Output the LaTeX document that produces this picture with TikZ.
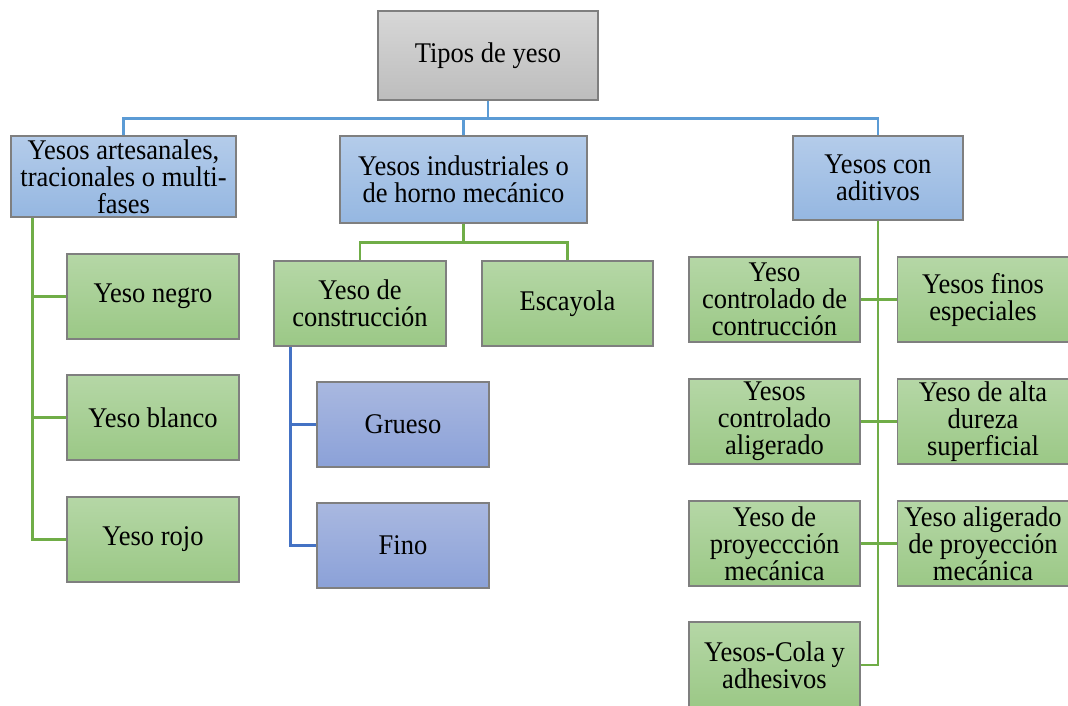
\documentclass[tikz,border=0pt]{standalone}
\usepackage{fontspec}
\setmainfont{Liberation Serif}[FakeStretch=0.93]
\definecolor{busblue}{HTML}{5B9BD5}
\definecolor{leafgreen}{HTML}{70AD47}
\definecolor{subblue}{HTML}{4472C4}
\definecolor{edgegray}{HTML}{7F7F7F}
\definecolor{graytop}{HTML}{D7D7D7}
\definecolor{graybot}{HTML}{BDBDBD}
\definecolor{bluetop}{HTML}{B4CCEA}
\definecolor{bluebot}{HTML}{95B7E1}
\definecolor{greentop}{HTML}{B5D7A6}
\definecolor{greenbot}{HTML}{9BC886}
\definecolor{violettop}{HTML}{A9B8E0}
\definecolor{violetbot}{HTML}{8BA1D8}
\begin{document}
\begin{tikzpicture}[x=1pt, y=-1pt, font=\fontsize{28.5}{27}\selectfont,
  box/.style={draw=edgegray, line width=1.2pt, align=center, inner xsep=1pt, inner ysep=-3pt, minimum height=85pt},
  graybox/.style={box, top color=graytop, bottom color=graybot},
  bluebox/.style={box, top color=bluetop, bottom color=bluebot},
  greenbox/.style={box, top color=greentop, bottom color=greenbot, minimum width=171pt},
  violetbox/.style={box, top color=violettop, bottom color=violetbot, minimum width=172pt},
  bluelink/.style={busblue, line width=2.4pt},
  greenlink/.style={leafgreen, line width=2.4pt},
  sublink/.style={subblue, line width=2.4pt}]
\clip (0,0) rectangle (1068,705);
% root and first level
\node[graybox, minimum width=220pt, minimum height=89pt] (root) at (488,55.5) {Tipos de yeso};
\node[bluebox, minimum width=225pt, minimum height=81pt] (art) at (123.5,176.5) {Yesos artesanales,\\tracionales o multi-\\fases};
\node[bluebox, minimum width=247pt, minimum height=87pt] (ind) at (463.5,179.5) {Yesos industriales o\\de horno mecánico};
\node[bluebox, minimum width=170pt, minimum height=84pt] (adi) at (878,178) {Yesos con\\aditivos};
% artesanales
\node[greenbox, minimum width=172pt] (negro) at (153,296.5) {Yeso negro};
\node[greenbox, minimum width=172pt] (blanco) at (153,417.5) {Yeso blanco};
\node[greenbox, minimum width=172pt] (rojo) at (153,539.5) {Yeso rojo};
% industriales
\node[greenbox, minimum width=172pt] (cons) at (360,303.5) {Yeso de\\construcción};
\node[greenbox] (esc) at (567.5,303.5) {Escayola};
\node[violetbox] (grueso) at (403,424.5) {Grueso};
\node[violetbox] (fino) at (403,545.5) {Fino};
% aditivos
\node[greenbox] (ctrl) at (774.5,299.5) {Yeso\\controlado de\\contrucción};
\node[greenbox] (finos) at (983,299.5) {Yesos finos\\especiales};
\node[greenbox] (alig) at (774.5,421.5) {Yesos\\controlado\\aligerado};
\node[greenbox] (dura) at (983,421.5) {Yeso de alta\\dureza\\superficial};
\node[greenbox] (proy) at (774.5,543.5) {Yeso de\\proyeccción\\mecánica};
\node[greenbox] (aproy) at (983,543.5) {Yeso aligerado\\de proyección\\mecánica};
\node[greenbox, minimum height=86pt] (cola) at (774.5,665) {Yesos-Cola y\\adhesivos};
% connectors
\coordinate (bus) at ([yshift=-18pt]root.south);
\draw[bluelink] (root.south) -- (bus);
\draw[bluelink] (art.north) |- (bus) -| (adi.north);
\draw[bluelink] (ind.north) -- (ind.north |- bus);
\coordinate (artT) at ([xshift=22pt]art.south west);
\draw[greenlink] (artT) |- (rojo.west);
\draw[greenlink] (artT |- negro.west) -- (negro.west);
\draw[greenlink] (artT |- blanco.west) -- (blanco.west);
\coordinate (indT) at ([yshift=-19pt]ind.south);
\draw[greenlink] (ind.south) -- (indT);
\draw[greenlink] (cons.north) |- (indT) -| (esc.north);
\coordinate (consT) at ([xshift=17pt]cons.south west);
\draw[sublink] (consT) |- (fino.west);
\draw[sublink] (consT |- grueso.west) -- (grueso.west);
\draw[greenlink] (adi.south) |- (cola.east);
\draw[greenlink] (ctrl.east) -- (finos.west);
\draw[greenlink] (alig.east) -- (dura.west);
\draw[greenlink] (proy.east) -- (aproy.west);
\end{tikzpicture}
\end{document}
